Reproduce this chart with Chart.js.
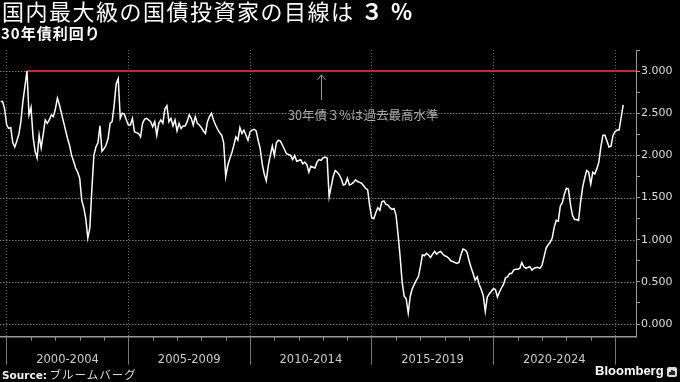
<!DOCTYPE html>
<html><head><meta charset="utf-8">
<script src="https://cdn.jsdelivr.net/npm/chart.js@4"></script>
<style>
html,body{margin:0;padding:0;background:#000;}
#wrap{position:relative;width:680px;height:382px;background:#000;overflow:hidden;}
#c{position:absolute;left:0;top:0;}
.t{position:absolute;white-space:nowrap;color:#fff;}
#title{left:2px;top:-2px;font-family:"Noto Sans CJK JP";font-size:22px;line-height:24px;letter-spacing:1.5px;}
#title b{font-weight:700;}
#sub{left:1px;top:24px;font-family:"Noto Sans CJK JP";font-size:15px;line-height:18px;font-weight:700;letter-spacing:1px;}
#src{left:2px;top:366px;font-size:10.5px;line-height:16px;color:#ddd;}
#src b{font-family:"DejaVu Sans";font-weight:700;color:#eee;}
#src span{font-family:"Noto Sans CJK JP";font-size:11.5px;letter-spacing:1px;}
#bb{left:595px;top:363px;font-family:"Liberation Sans";font-weight:700;font-size:13px;line-height:16px;color:#fff;}
#icon{position:absolute;left:667px;top:367px;width:10px;height:10px;border-radius:2px;background:#ddd;}
#icon i{position:absolute;bottom:2px;width:1.5px;background:#222;}
</style>
</head><body>
<div id="wrap">
<canvas id="c" width="680" height="382"></canvas>
<div class="t" id="title">国内最大級の国債投資家の目線は <b>３ %</b></div>
<div class="t" id="sub">30年債利回り</div>
<div class="t" id="src"><b>Source:</b> <span>ブルームバーグ</span></div>
<div class="t" id="bb">Bloomberg</div>
<div id="icon"><i style="left:2px;height:3px"></i><i style="left:4.2px;height:5px"></i><i style="left:6.4px;height:4px"></i></div>
</div>
<script>
// Monthly 30-year JGB yield (%), starting October 1999
const startYear = 1999;
const startMonth = 10;
const yields = [
2.64,2.64,2.55,2.36,2.32,2.33,2.15,2.10,2.17,2.25,
2.40,2.64,2.82,3.00,2.48,2.57,2.22,2.05,1.97,2.24,
2.09,2.25,2.42,2.38,2.42,2.48,2.46,2.55,2.68,2.60,
2.50,2.40,2.30,2.20,2.12,2.00,1.93,1.85,1.80,1.73,
1.47,1.38,1.25,1.02,1.14,1.60,2.00,2.10,2.15,2.35,
2.05,2.08,2.12,2.20,2.38,2.40,2.60,2.85,2.91,2.44,
2.50,2.49,2.42,2.36,2.36,2.44,2.28,2.27,2.26,2.22,
2.38,2.43,2.44,2.42,2.40,2.34,2.40,2.24,2.38,2.42,
2.38,2.55,2.59,2.40,2.44,2.35,2.42,2.29,2.38,2.32,
2.35,2.35,2.40,2.48,2.44,2.36,2.46,2.38,2.36,2.33,
2.29,2.26,2.40,2.46,2.50,2.42,2.36,2.31,2.27,2.24,
2.15,1.75,1.88,1.96,2.03,2.12,2.22,2.18,2.33,2.26,
2.30,2.24,2.18,2.28,2.30,2.31,2.29,2.18,2.08,1.90,
1.78,1.70,1.88,2.00,2.11,2.00,2.15,2.18,2.17,2.12,
2.07,2.02,2.01,2.00,1.95,2.00,1.93,1.94,1.95,1.90,
1.92,1.89,1.80,1.87,1.86,1.85,1.92,1.95,1.94,1.97,
1.98,1.97,1.51,1.63,1.75,1.82,1.80,1.77,1.72,1.65,
1.66,1.73,1.65,1.66,1.68,1.71,1.69,1.68,1.67,1.64,
1.61,1.59,1.40,1.26,1.25,1.32,1.38,1.35,1.45,1.46,
1.42,1.41,1.38,1.36,1.37,1.29,1.06,0.80,0.50,0.33,
0.30,0.13,0.33,0.42,0.47,0.52,0.56,0.68,0.82,0.81,
0.84,0.82,0.79,0.83,0.86,0.83,0.85,0.86,0.83,0.81,
0.80,0.78,0.75,0.74,0.73,0.72,0.73,0.82,0.89,0.88,
0.85,0.75,0.67,0.60,0.52,0.56,0.47,0.41,0.34,0.15,
0.32,0.36,0.39,0.42,0.41,0.32,0.38,0.43,0.47,0.55,
0.56,0.60,0.60,0.64,0.65,0.65,0.66,0.73,0.68,0.66,
0.67,0.68,0.64,0.66,0.67,0.67,0.66,0.70,0.80,0.90,
0.94,0.97,1.02,1.15,1.23,1.22,1.40,1.44,1.54,1.61,
1.60,1.42,1.29,1.24,1.24,1.23,1.45,1.62,1.73,1.82,
1.80,1.66,1.80,1.78,1.84,1.92,2.10,2.24,2.24,2.17,
2.10,2.11,2.24,2.28,2.30,2.30,2.45,2.60
];
const refLevel = 3.0;          // 3% reference line
const refStartIndex = 13;      // month where the 3% peak occurred (Nov 2000)
const periodStarts = [2000, 2005, 2010, 2015, 2020, 2025];
const periodLabels = ['2000-2004', '2005-2009', '2010-2014', '2015-2019', '2020-2024'];
const yTickValues = [0,0.25,0.5,0.75,1,1.25,1.5,1.75,2,2.25,2.5,2.75,3,3.25];
const annotationText = '30年債３%は過去最高水準';

const toX = i => startYear + (startMonth - 1) / 12 + i / 12;
const points = yields.map((v, i) => ({x: toX(i), y: v}));
const xMin = 1999.725, xMax = 2025.86;
const refPoints = [{x: toX(refStartIndex), y: refLevel}, {x: xMax, y: refLevel}];

const midTicks = periodLabels.map((l, i) => periodStarts[i] + 2.5);
const labelFor = {};
midTicks.forEach((v, i) => labelFor[v] = periodLabels[i]);
const xTickValues = periodStarts.concat(midTicks).sort((a, b) => a - b);
const isMajor = v => periodStarts.includes(v);
const isHalf = v => Math.abs(v * 2 - Math.round(v * 2)) < 1e-9;

// horizontal dotted grid at labelled y ticks, positioned by the y scale
const yGrid = {
  id: 'yGrid',
  beforeDatasetsDraw(chart) {
    const ys = chart.scales.y, a = chart.chartArea, ctx = chart.ctx;
    ctx.save();
    ctx.strokeStyle = '#7a7a7a'; ctx.lineWidth = 1; ctx.setLineDash([1.5, 1.5]);
    yTickValues.filter(isHalf).forEach(v => {
      const py = Math.round(ys.getPixelForValue(v)) + 0.5;
      ctx.beginPath(); ctx.moveTo(a.left, py); ctx.lineTo(a.right, py); ctx.stroke();
    });
    ctx.restore();
  }
};
const minorTicks = {
  id: 'minorTicks',
  afterDraw(chart) {
    const s = chart.scales.x, ctx = chart.ctx;
    ctx.save();
    ctx.strokeStyle = '#888'; ctx.lineWidth = 1;
    for (let y = 2000; y <= 2025; y++) {
      if (y % 5 === 0) continue;
      const px = Math.round(s.getPixelForValue(y)) + 0.5;
      ctx.beginPath(); ctx.moveTo(px, s.top); ctx.lineTo(px, s.top + 4); ctx.stroke();
    }
    ctx.restore();
  }
};
const annotation = {
  id: 'annot',
  afterDatasetsDraw(chart) {
    const xs = chart.scales.x, ys = chart.scales.y, ctx = chart.ctx;
    const ax = Math.round(xs.getPixelForValue(2012.9)) + 0.5;
    const yTop = ys.getPixelForValue(2.955), yBot = ys.getPixelForValue(2.656);
    ctx.save();
    ctx.strokeStyle = '#999'; ctx.lineWidth = 1;
    ctx.beginPath(); ctx.moveTo(ax, yBot); ctx.lineTo(ax, yTop); ctx.stroke();
    ctx.beginPath(); ctx.moveTo(ax - 4, yTop + 5); ctx.lineTo(ax, yTop); ctx.lineTo(ax + 4, yTop + 5); ctx.stroke();
    ctx.fillStyle = '#aaa';
    ctx.font = '12.5px "Noto Sans CJK JP"';
    ctx.textAlign = 'center'; ctx.textBaseline = 'middle';
    ctx.fillText(annotationText, xs.getPixelForValue(2014.65), ys.getPixelForValue(2.478));
    ctx.restore();
  }
};

new Chart(document.getElementById('c'), {
  type: 'line',
  data: {datasets: [
    {data: points, borderColor: '#ffffff', borderWidth: 1.5, pointRadius: 0, tension: 0, order: 1},
    {data: refPoints, borderColor: '#c0283c', borderWidth: 2, pointRadius: 0, order: 2}
  ]},
  options: {
    responsive: false, animation: false, devicePixelRatio: 1,
    layout: {padding: {top: 50, left: 0, right: 0, bottom: 0}},
    plugins: {legend: {display: false}, tooltip: {enabled: false}, title: {display: false}},
    scales: {
      x: {
        type: 'linear', position: 'bottom', min: xMin, max: xMax,
        afterBuildTicks: s => { s.ticks = xTickValues.map(v => ({value: v})); },
        afterFit: s => { s.height = 45.3; },
        grid: {
          color: c => (c.tick && isMajor(c.tick.value)) ? '#666' : 'rgba(0,0,0,0)',
          tickColor: c => (c.tick && isMajor(c.tick.value)) ? '#777' : 'rgba(0,0,0,0)',
          lineWidth: 1, tickLength: 28, drawTicks: true
        },
        border: {display: true, color: '#999', width: 1.5, dash: [1, 2]},
        ticks: {
          autoSkip: false, maxRotation: 0, minRotation: 0, padding: -12,
          color: '#ccc', font: {family: 'DejaVu Sans', size: 11.5},
          callback: v => labelFor[v] || ''
        }
      },
      y: {
        type: 'linear', position: 'right', min: -0.15, max: 3.25,
        afterBuildTicks: s => { s.ticks = yTickValues.map(v => ({value: v})); },
        afterFit: s => { s.width = 44; },
        grid: {drawOnChartArea: false, tickColor: '#999', tickLength: 4, lineWidth: 1},
        border: {display: true, color: '#999', width: 1},
        ticks: {
          padding: 1, color: '#ddd', font: {family: 'DejaVu Sans', size: 11},
          callback: v => isHalf(v) ? v.toFixed(3) : ''
        }
      }
    }
  },
  plugins: [yGrid, minorTicks, annotation]
});
</script>
</body></html>
